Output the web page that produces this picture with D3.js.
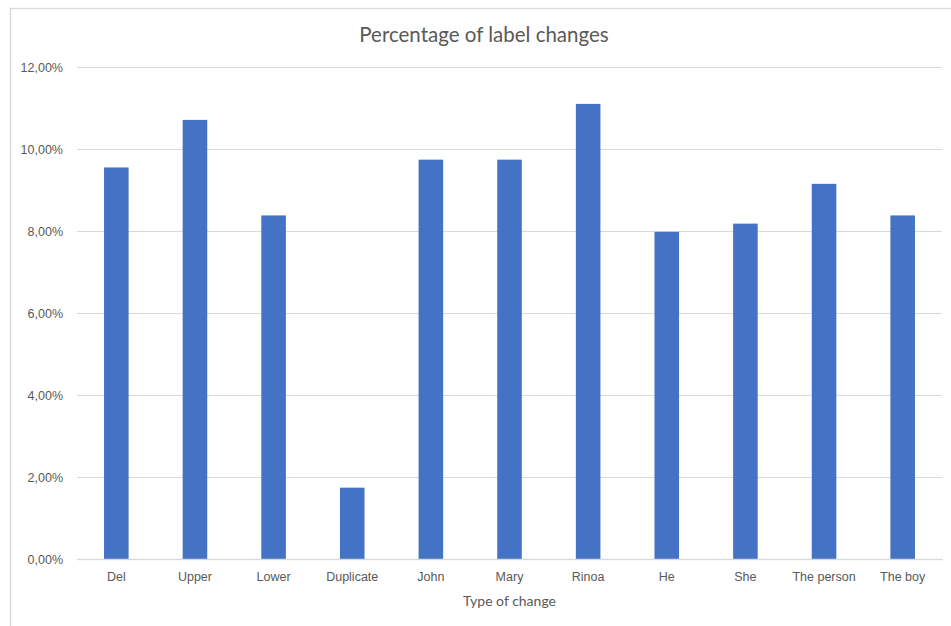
<!DOCTYPE html>
<html>
<head>
<meta charset="utf-8">
<script src="https://cdn.jsdelivr.net/npm/d3@7"></script>
<style>
  html, body { margin: 0; padding: 0; background: #fff; }
  svg { display: block; font-family: Lato, "Open Sans", sans-serif; }
</style>
</head>
<body>
<svg id="chart" width="951" height="626"></svg>
<script>
// Share of label changes per type of change
const categories = ["Del", "Upper", "Lower", "Duplicate", "John", "Mary", "Rinoa", "He", "She", "The person", "The boy"];
const values = [0.0955, 0.1071, 0.0838, 0.0174, 0.0974, 0.0974, 0.1110, 0.0798, 0.0818, 0.0915, 0.0838];
const yTicks = [0, 0.02, 0.04, 0.06, 0.08, 0.10, 0.12];
const chartTitle = "Percentage of label changes";
const xAxisTitle = "Type of change";

const svg = d3.select("#chart");
const W = 951, H = 626;
const plot = { left: 77, right: 942, top: 67, bottom: 559 };

// chart frame (open on the right and bottom edges)
svg.append("path")
  .attr("d", `M10.5,${H} V8.5 H${W}`)
  .attr("fill", "none")
  .attr("stroke", "#d9d9d9")
  .attr("stroke-width", 1.5);

const x = d3.scaleBand().domain(categories).range([plot.left, plot.right]).padding(0);
const y = d3.scaleLinear().domain([0, 0.12]).range([plot.bottom, plot.top]);
const barW = x.step() / 3.2;

const fmt = v => (v * 100).toFixed(2).replace(".", ",") + "%";

// gridlines and y labels
const yAxis = d3.axisLeft(y).tickValues(yTicks).tickFormat(fmt).tickSize(-(plot.right - plot.left)).tickPadding(14);
const gy = svg.append("g").attr("transform", `translate(${plot.left},0)`).call(yAxis);
gy.select(".domain").remove();
gy.selectAll(".tick line").attr("stroke", "#d9d9d9").attr("stroke-width", 1);
gy.selectAll(".tick text").attr("fill", "#595959").attr("font-size", 12.5);

// bars
svg.append("g").selectAll("rect")
  .data(categories.map((c, i) => ({ c, v: values[i] })))
  .join("rect")
  .attr("x", d => x(d.c) + (x.step() - barW) / 2)
  .attr("width", barW)
  .attr("y", d => y(d.v))
  .attr("height", d => y(0) - y(d.v))
  .attr("fill", "#4472c4");

// category axis
const xAxis = d3.axisBottom(x).tickSize(0).tickPadding(13);
const gx = svg.append("g").attr("transform", `translate(0,${plot.bottom})`).call(xAxis);
gx.select(".domain").attr("stroke", "#d9d9d9").attr("stroke-width", 1.5);
gx.selectAll(".tick text").attr("fill", "#595959").attr("font-size", 12.5);

// titles
svg.append("text")
  .attr("x", 484).attr("y", 42)
  .attr("text-anchor", "middle")
  .attr("font-size", 20.5)
  .attr("fill", "#595959")
  .text(chartTitle);

svg.append("text")
  .attr("x", (plot.left + plot.right) / 2).attr("y", 606)
  .attr("text-anchor", "middle")
  .attr("font-size", 14)
  .attr("fill", "#595959")
  .text(xAxisTitle);
</script>
</body>
</html>
